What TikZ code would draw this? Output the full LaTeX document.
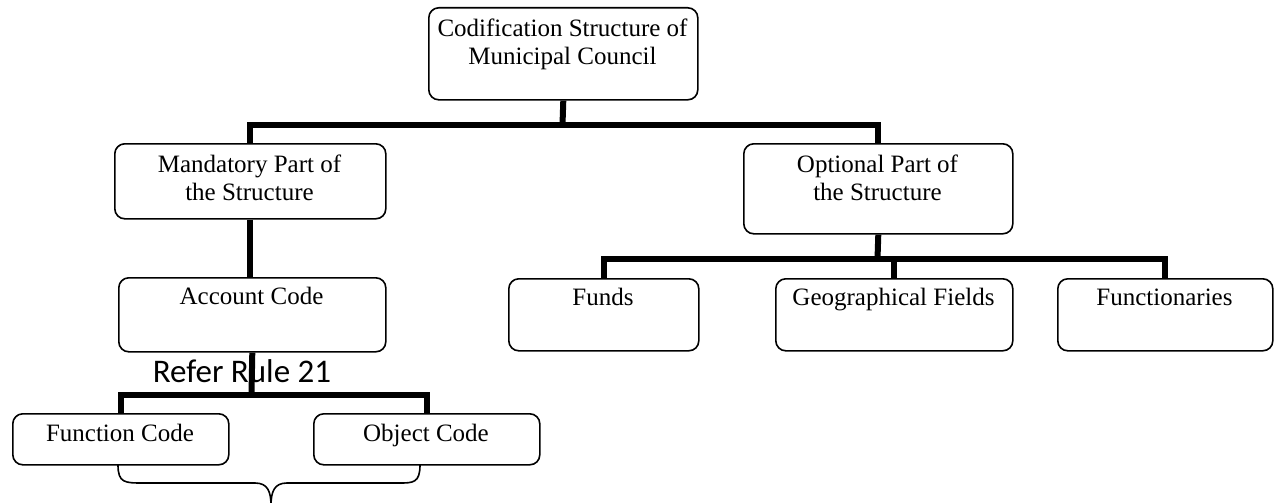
\documentclass[tikz,border=0pt]{standalone}
\usepackage{fontspec}
\setmainfont{Liberation Serif}
\newfontfamily\calibfont{Carlito}
\begin{document}
\begin{tikzpicture}[x=1pt,y=-1pt,
  box/.style={draw, line width=1.6pt, rounded corners=10pt, inner sep=0pt, anchor=north west},
  lbl/.style={font=\fontsize{25}{28}\selectfont, inner sep=0pt, align=center},
  conn/.style={line width=6pt, line join=miter},
  brace/.style={line width=1.6pt}]
\useasboundingbox (0,0) rectangle (1275,503);
% boxes
\node[box, minimum width=269pt, minimum height=92pt] (top) at (428,7) {};
\node[box, minimum width=271pt, minimum height=75pt] (mand) at (114,143) {};
\node[box, minimum width=269pt, minimum height=90pt] (opt) at (743,143) {};
\node[box, minimum width=267pt, minimum height=74pt] (acc) at (118,277) {};
\node[box, minimum width=190pt, minimum height=72pt] (funds) at (508,278) {};
\node[box, minimum width=237pt, minimum height=72pt] (geo) at (775,278) {};
\node[box, minimum width=215pt, minimum height=72pt] (fnry) at (1057,278) {};
\node[box, minimum width=216pt, minimum height=51pt] (fun) at (12,413) {};
\node[box, minimum width=226pt, minimum height=51pt] (obj) at (313,413) {};
% labels
\node[lbl, anchor=north] (topT) at (562.5,19) {Codification Structure of\\Municipal Council};
\node[lbl, anchor=north] (mandT) at (249.5,155) {Mandatory Part of\\the Structure};
\node[lbl, anchor=north] (optT) at (877.5,155) {Optional Part of\\the Structure};
\node[lbl, anchor=base] (accT) at (251.5,304) {Account Code};
\node[lbl, anchor=base] (fundsT) at (603,305) {Funds};
\node[lbl, anchor=base] (geoT) at (893.5,305) {Geographical Fields};
\node[lbl, anchor=base] (fnryT) at (1164.5,305) {Functionaries};
\node[lbl, anchor=base] (funT) at (120,441) {Function Code};
\node[lbl, anchor=base] (objT) at (426,441) {Object Code};
% connectors
\coordinate (j1) at (562.5,124.5);
\coordinate (j2) at (251.5,395);
\coordinate (j3) at (877.5,259);
\draw[conn] (top.south) -- (j1);
\draw[conn] (mand.north) |- (j1) -| (opt.north);
\draw[conn] (mand.south) -- (mand.south |- acc.north);
\draw[conn] (acc.south) -- (j2);
\draw[conn] (fun.north) |- (j2) -| (obj.north);
\draw[conn] (opt.south) -- (j3);
\draw[conn] (funds.north) |- (j3) -| (fnry.north);
\draw[conn] (geo.north) -- (geo.north |- j3);
% rule label
\node[font=\calibfont\fontsize{33}{37}\selectfont, inner sep=0pt, anchor=base] (rule) at (242,382) {Refer Rule 21};
% brace
\draw[brace] (118,465) .. controls (118,483) and (125,483) .. (143,483) -- (255,483)
  .. controls (268,483) and (271,492) .. (271,506);
\draw[brace] (420,465) .. controls (420,483) and (413,483) .. (399,483) -- (287,483)
  .. controls (274,483) and (271,492) .. (271,506);
\end{tikzpicture}
\end{document}
